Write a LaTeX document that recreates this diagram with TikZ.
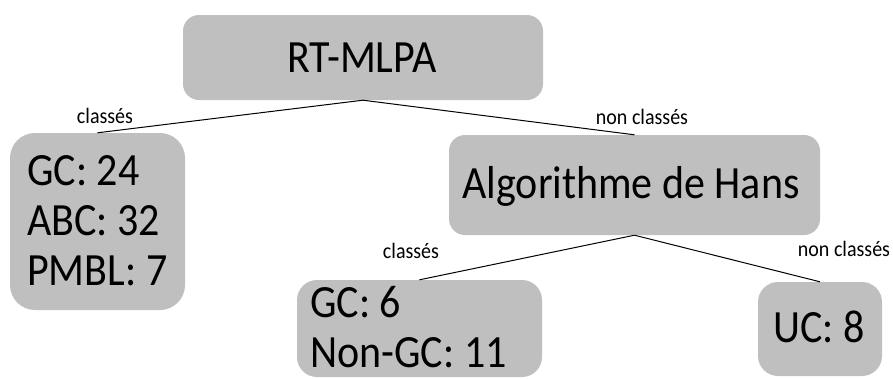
\documentclass[tikz,border=0pt]{standalone}
\usepackage{fontspec}
\setmainfont{Carlito}
\definecolor{boxgray}{HTML}{BFBFBF}
\begin{document}
\begin{tikzpicture}[x=1pt,y=-1pt,
  box/.style={fill=boxgray,draw=none,rounded corners=#1,inner sep=0pt},
  box/.default=16pt,
  bigtext/.style={font=\fontsize{42}{50}\selectfont,inner sep=0pt,anchor=base,yscale=1.1,transform shape},
  bigleft/.style={bigtext,anchor=base west},
  lbl/.style={font=\fontsize{20}{22}\selectfont,inner sep=0pt,anchor=base,yscale=1.1,transform shape},
  conn/.style={draw=black,line width=1pt}]
\useasboundingbox (0,0) rectangle (893,378);
\clip (0,0) rectangle (893,378);
% boxes
\node[box,minimum width=360pt,minimum height=85pt] (root) at (363,57.5) {};
\node[box=25pt,minimum width=175pt,minimum height=177pt] (left) at (97.5,221.5) {};
\node[box,minimum width=371pt,minimum height=100pt] (hans) at (634.5,185) {};
\node[box=20pt,minimum width=245pt,minimum height=97pt] (gc6) at (419.5,328.5) {};
\node[box=20pt,minimum width=124pt,minimum height=94pt] (uc) at (820,329) {};
% texts
\node[bigtext] (troot) at (362,72) {RT-MLPA};
\node[bigtext] (thans) at (631,198) {Algorithme de Hans};
\node[bigleft] (tl1) at (27,185) {GC: 24};
\node[bigleft] (tl2) at (27,235) {ABC: 32};
\node[bigleft] (tl3) at (27,285) {PMBL: 7};
\node[bigleft] (tg1) at (310,317) {GC: 6};
\node[bigleft] (tg2) at (310,367) {Non-GC: 11};
\node[bigtext] (tuc) at (819,342) {UC: 8};
% connectors
\draw[conn] (root.south) -- (left.north);
\draw[conn] (root.south) -- (hans.north);
\draw[conn] (hans.south) -- (gc6.north);
\draw[conn] (hans.south) -- (uc.north);
% labels
\node[lbl] (l1) at (105,123) {classés};
\node[lbl] (l2) at (642,124) {non classés};
\node[lbl] (l3) at (411,258) {classés};
\node[lbl] (l4) at (844,256) {non classés};
\end{tikzpicture}
\end{document}
